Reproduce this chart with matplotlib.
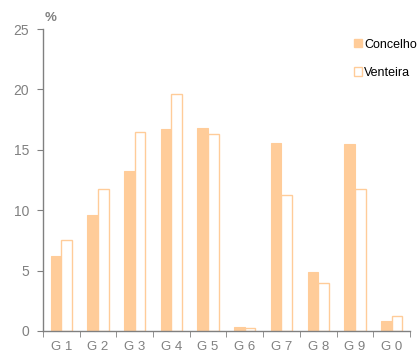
import numpy as np
import matplotlib.pyplot as plt
from matplotlib.patches import Patch

plt.rcParams['font.family'] = ['Liberation Sans', 'DejaVu Sans']

# Values
categories = ['G 1', 'G 2', 'G 3', 'G 4', 'G 5', 'G 6', 'G 7', 'G 8', 'G 9', 'G 0']
concelho = [6.2, 9.6, 13.25, 16.7, 16.8, 0.3, 15.6, 4.9, 15.5, 0.85]
venteira = [7.5, 11.75, 16.45, 19.6, 16.3, 0.22, 11.25, 3.95, 11.75, 1.25]
y_ticks = [0, 5, 10, 15, 20, 25]

fill_color = '#FFCC99'
grey = '#808080'

fig = plt.figure(figsize=(4.17, 3.54), dpi=100)
ax = fig.add_axes([0.103, 0.065, 0.880, 0.853])

x = np.arange(len(categories))
width = 0.29
ax.bar(x - width / 2, concelho, width, color=fill_color, edgecolor=fill_color, linewidth=0.8)
ax.bar(x + width / 2, venteira, width, color='white', edgecolor=fill_color, linewidth=1.0)

ax.set_xlim(-0.5, len(categories) - 0.5)
ax.set_ylim(0, 25)

# Category labels, tick marks between groups
ax.set_xticks(x)
ax.set_xticklabels(categories)
ax.set_xticks(np.arange(len(categories) + 1) - 0.5, minor=True)
ax.tick_params(axis='x', which='major', length=0, pad=7, labelsize=9.5, labelcolor=grey)
ax.tick_params(axis='x', which='minor', length=4, color=grey, direction='out')

ax.set_yticks(y_ticks)
ax.tick_params(axis='y', length=4, color=grey, labelsize=10, labelcolor=grey, pad=6)

for side in ['top', 'right']:
    ax.spines[side].set_visible(False)
for side in ['left', 'bottom']:
    ax.spines[side].set_color(grey)
    ax.spines[side].set_linewidth(1.0)

fig.text(0.108, 0.948, '%', color=grey, fontsize=9.5, fontweight='bold', ha='left', va='center')

handles = [
    Patch(facecolor=fill_color, edgecolor=fill_color),
    Patch(facecolor='white', edgecolor=fill_color),
]
ax.legend(handles, ['Concelho', 'Venteira'], loc='upper left',
          bbox_to_anchor=(0.835, 0.985), frameon=False, fontsize=9,
          handlelength=0.65, handleheight=0.65, handletextpad=0.15,
          labelspacing=1.3, borderaxespad=0)

fig.savefig('out.png', dpi=100)
